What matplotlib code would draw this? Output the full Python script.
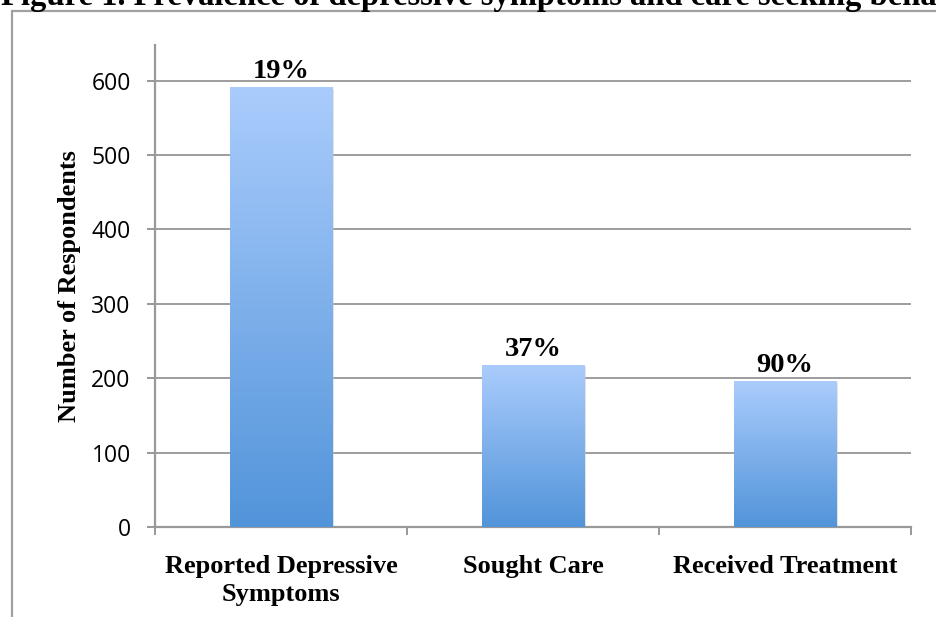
import matplotlib
matplotlib.use("Agg")
import matplotlib.pyplot as plt
from matplotlib.colors import LinearSegmentedColormap
from matplotlib.patches import Rectangle
import numpy as np

categories = ["Reported Depressive\nSymptoms", "Sought Care", "Received Treatment"]
respondents = [591, 217, 195]
pct_labels = ["19%", "37%", "90%"]
title = "Figure 1. Prevalence of depressive symptoms and care seeking behavior"

serif = "Liberation Serif"
W, H = 936, 617

fig = plt.figure(figsize=(W / 100, H / 100), dpi=100)

# outer chart frame (runs off the right and bottom edge)
fig.patches.append(Rectangle((12 / W, -0.1), 1.2, 1 - 11 / H + 0.1,
                             transform=fig.transFigure, fill=False,
                             edgecolor="#a0a0a0", linewidth=1.6))
# title is clipped by the top of the image, as in the source
fig.text(1 / W, 1 - 5 / H, title, family=serif, weight="bold",
         fontsize=23.5, va="baseline", ha="left")

ax = fig.add_axes([155 / W, 1 - 527 / H, (911 - 155) / W, (527 - 45) / H])

x = np.arange(len(categories))
bars = ax.bar(x, respondents, width=0.405, color="none", zorder=3)

grad = LinearSegmentedColormap.from_list("blu", ["#5294da", "#aaccfc"])
for b in bars:
    x0, w, h = b.get_x(), b.get_width(), b.get_height()
    # soft shadow
    ax.add_patch(Rectangle((x0 + 0.006, 0), w, h - 2, facecolor="#c8c8c8",
                           alpha=0.5, zorder=2, linewidth=0))
    ax.imshow(np.linspace(0, 1, 256).reshape(-1, 1), cmap=grad, origin="lower",
              extent=(x0, x0 + w, 0, h), aspect="auto", zorder=3)

for xi, v, lab in zip(x, respondents, pct_labels):
    ax.text(xi, v + 5, lab, ha="center", va="bottom", family=serif,
            weight="bold", fontsize=20.5)

ax.set_xlim(-0.5, len(categories) - 0.5)
ax.set_ylim(0, 648)
ax.set_yticks(range(0, 601, 100))
ax.set_yticklabels([str(t) for t in range(0, 601, 100)], family="Open Sans",
                   fontsize=16.5)
ax.yaxis.grid(True, color="#8c8c8c", linewidth=1.2, zorder=0)
ax.set_axisbelow(True)

ax.set_xticks(x)
ax.set_xticklabels(categories, family=serif, weight="bold", fontsize=19,
                   linespacing=1.3)
ax.set_xticks(np.arange(-0.5, len(categories)), minor=True)
ax.tick_params(axis="x", which="major", length=0, pad=20)
ax.tick_params(axis="x", which="minor", length=6, color="#999999", width=1.4)
ax.tick_params(axis="y", length=6, color="#999999", width=1.4, pad=11.5)

for s in ["top", "right"]:
    ax.spines[s].set_visible(False)
for s in ["left", "bottom"]:
    ax.spines[s].set_color("#999999")
    ax.spines[s].set_linewidth(1.6)

ax.set_ylabel("Number of Respondents", family=serif, weight="bold",
              fontsize=19)
ax.yaxis.set_label_coords(-0.098, 0.5)

fig.savefig("out.png", dpi=100)
